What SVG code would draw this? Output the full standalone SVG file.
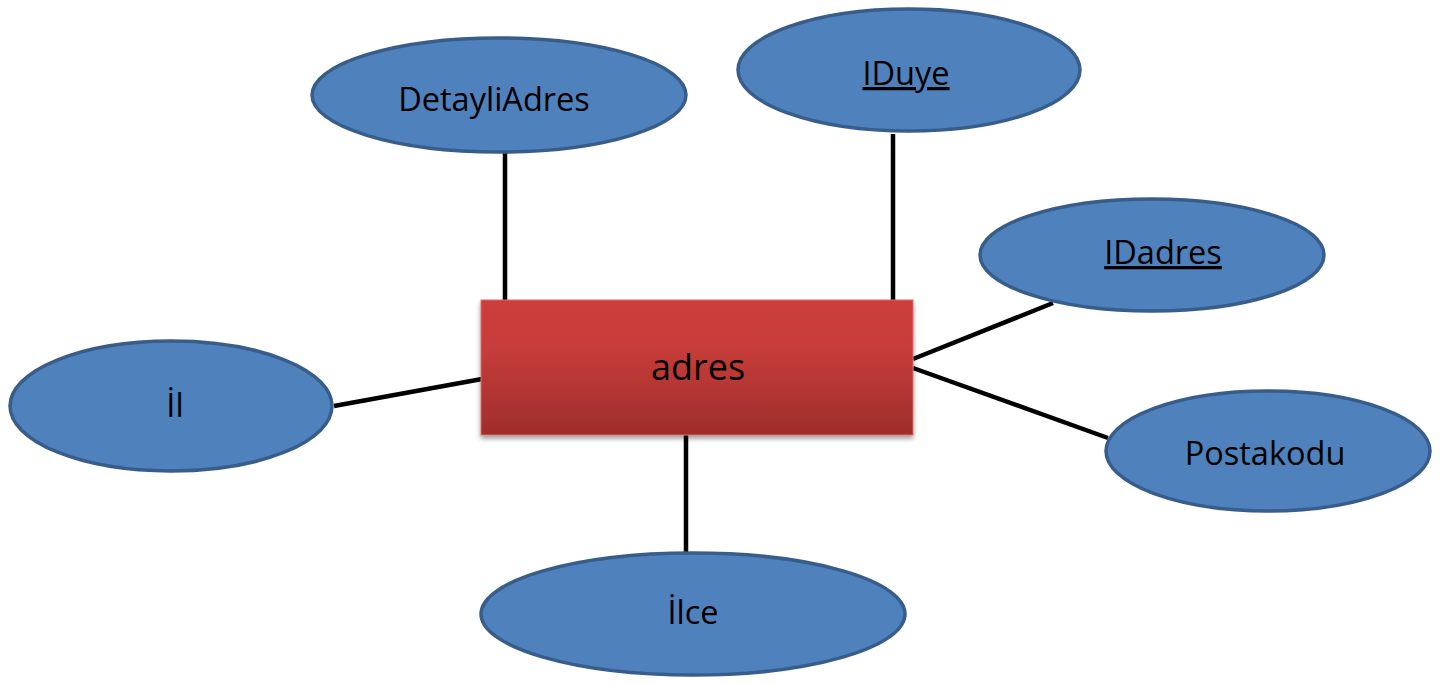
<svg xmlns="http://www.w3.org/2000/svg" width="1447" height="684" viewBox="0 0 1447 684">
<style>
.attr ellipse{fill:#4F81BD;stroke:#385D8A;stroke-width:3.5}
.lbl{font-family:"Open Sans","Noto Sans",sans-serif;font-size:32.5px;fill:#000;text-anchor:middle}
.key{text-decoration:underline}
.conn line{stroke:#000;stroke-width:4.5}
</style>
<defs>
<linearGradient id="red" x1="0" y1="0" x2="0" y2="1">
<stop offset="0" stop-color="#CD3E3B"/>
<stop offset="0.35" stop-color="#C73D3A"/>
<stop offset="1" stop-color="#9E2D2B"/>
</linearGradient>
<filter id="sh" x="-10%" y="-10%" width="120%" height="130%">
<feGaussianBlur in="SourceAlpha" stdDeviation="2.5"/>
<feOffset dx="0" dy="3"/>
<feComponentTransfer><feFuncA type="linear" slope="0.4"/></feComponentTransfer>
<feMerge><feMergeNode/><feMergeNode in="SourceGraphic"/></feMerge>
</filter>
</defs>
<g id="connectors" class="conn">
<line x1="505" y1="153" x2="505" y2="301"/>
<line x1="893" y1="134" x2="893" y2="301"/>
<line x1="913" y1="359" x2="1053" y2="303"/>
<line x1="913" y1="368" x2="1108" y2="438"/>
<line x1="334" y1="406" x2="482" y2="379"/>
<line x1="686" y1="434" x2="686" y2="552"/>
</g>
<g id="adres">
<rect x="481" y="300" width="432" height="135" fill="url(#red)" stroke="#D9706E" stroke-width="1" filter="url(#sh)"/>
<text class="lbl" x="698" y="380" style="font-size:36px">adres</text>
</g>
<g id="DetayliAdres" class="attr">
<ellipse cx="499" cy="95" rx="187" ry="57"/>
<text class="lbl" x="494" y="111">DetayliAdres</text>
</g>
<g id="IDuye" class="attr">
<ellipse cx="909" cy="70" rx="171" ry="61"/>
<text class="lbl key" x="906" y="85">IDuye</text>
</g>
<g id="IDadres" class="attr">
<ellipse cx="1152" cy="255" rx="172" ry="56"/>
<text class="lbl key" x="1163" y="264">IDadres</text>
</g>
<g id="Il" class="attr">
<ellipse cx="171" cy="406" rx="161" ry="65"/>
<text class="lbl" x="175" y="417">İl</text>
</g>
<g id="Postakodu" class="attr">
<ellipse cx="1268" cy="451" rx="162" ry="60"/>
<text class="lbl" x="1265" y="465">Postakodu</text>
</g>
<g id="Ilce" class="attr">
<ellipse cx="693" cy="614" rx="212" ry="61"/>
<text class="lbl" x="693" y="624">İlce</text>
</g>
</svg>
